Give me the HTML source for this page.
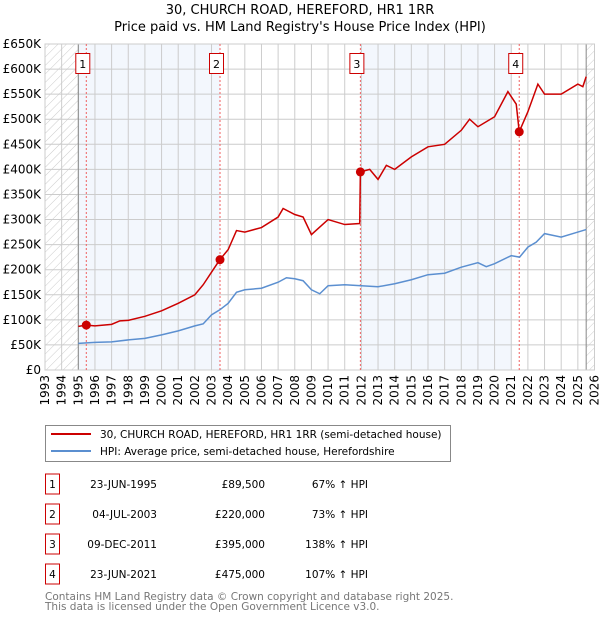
<!DOCTYPE html>
<html><head><meta charset="utf-8"><style>
body{margin:0;background:#fff;width:600px;height:620px;overflow:hidden;font-family:"DejaVu Sans","Liberation Sans",sans-serif;}
svg text{font-family:"DejaVu Sans","Liberation Sans",sans-serif;}
</style></head><body>
<svg id="chart" width="600" height="620" xmlns="http://www.w3.org/2000/svg">
<defs><pattern id="hatch" width="6" height="6" patternUnits="userSpaceOnUse" patternTransform="rotate(45)"><line x1="0" y1="0" x2="0" y2="6" stroke="#ccc" stroke-width="1"/></pattern></defs>
<text x="300" y="14" font-size="13" text-anchor="middle">30, CHURCH ROAD, HEREFORD, HR1 1RR</text>
<text x="300" y="31" font-size="13" text-anchor="middle">Price paid vs. HM Land Registry's House Price Index (HPI)</text>
<g id="plot"></g>
<rect x="45.5" y="425.5" width="405" height="36" fill="#fff" stroke="#888"/>
<line x1="51" y1="434" x2="91" y2="434" stroke="#cc0000" stroke-width="2"/>
<text x="100" y="438" font-size="10.5">30, CHURCH ROAD, HEREFORD, HR1 1RR (semi-detached house)</text>
<line x1="51" y1="451" x2="91" y2="451" stroke="#5b8fd0" stroke-width="2"/>
<text x="100" y="455" font-size="10.5">HPI: Average price, semi-detached house, Herefordshire</text>
<g id="table" font-size="10.5"></g>
<text x="45" y="600" font-size="10.5" fill="#777">Contains HM Land Registry data © Crown copyright and database right 2025.</text>
<text x="45" y="610" font-size="10.5" fill="#777">This data is licensed under the Open Government Licence v3.0.</text>
</svg>
<script>
const yTicks=[0,50,100,150,200,250,300,350,400,450,500,550,600,650];
const years=[1993,1994,1995,1996,1997,1998,1999,2000,2001,2002,2003,2004,2005,2006,2007,2008,2009,2010,2011,2012,2013,2014,2015,2016,2017,2018,2019,2020,2021,2022,2023,2024,2025,2026];
const hpiX=[1995,1995.5,1996,1997,1998,1999,2000,2001,2002,2002.5,2003,2003.5,2004,2004.5,2005,2006,2007,2007.5,2008,2008.5,2009,2009.5,2010,2011,2012,2013,2014,2015,2016,2017,2018,2019,2019.5,2020,2021,2021.5,2022,2022.5,2023,2024,2025,2025.5];
const hpiY=[53,54,55,56,60,63,70,78,88,92,110,120,133,155,160,163,175,184,182,178,160,152,168,170,168,166,172,180,190,193,205,214,206,212,228,225,245,255,272,265,275,280];
const redX=[1995,1995.48,1996,1997,1997.5,1998,1999,2000,2001,2002,2002.5,2003,2003.5,2004,2004.5,2005,2006,2007,2007.3,2008,2008.5,2009,2009.5,2010,2011,2011.9,2011.94,2012.5,2013,2013.5,2014,2015,2016,2017,2018,2018.5,2019,2020,2020.8,2021.3,2021.48,2022,2022.6,2023,2024,2025,2025.3,2025.5];
const redY=[87,89.5,88,91,98,99,107,118,133,150,170,195,220,240,278,275,284,305,322,310,305,270,285,300,290,292,395,400,380,408,400,425,445,450,478,500,485,505,555,530,475,515,570,550,550,570,565,585];
const saleNums=["1","2","3","4"];
const saleX=[1995.48,2003.51,2011.94,2021.48];
const saleY=[89.5,220,395,475];
const saleDates=["23-JUN-1995","04-JUL-2003","09-DEC-2011","23-JUN-2021"];
const salePrices=["£89,500","£220,000","£395,000","£475,000"];
const salePct=["67% ↑ HPI","73% ↑ HPI","138% ↑ HPI","107% ↑ HPI"];

const X0=45,X1=594.5,Y0=370,Y1=44;
const xs=v=>X0+(v-1993)/(2026-1993)*(X1-X0);
const ys=v=>Y0-v/650*(Y0-Y1);
const NS="http://www.w3.org/2000/svg";
function mk(t,a,p){const e=document.createElementNS(NS,t);for(const k in a)e.setAttribute(k,a[k]);p.appendChild(e);return e;}
const g=document.getElementById('plot');
let r;
r=mk('rect',{x:xs(1995),y:Y1,width:xs(2003.51)-xs(1995),height:Y0-Y1,fill:'#eef3fc',opacity:0.7},g);


r=mk('rect',{x:xs(2011.94),y:Y1,width:xs(2021.05)-xs(2011.94),height:Y0-Y1,fill:'#eef3fc',opacity:0.7},g);


r=mk('rect',{x:X0,y:Y1,width:xs(1995)-X0,height:Y0-Y1,fill:'url(#hatch)'},g);


r=mk('rect',{x:xs(2025.5),y:Y1,width:X1-xs(2025.5),height:Y0-Y1,fill:'url(#hatch)'},g);


yTicks.forEach(v=>{
  const l=mk('line',{x1:X0,x2:X1,y1:ys(v),y2:ys(v),stroke:'#ccc'},g);
  
  
  const t=mk('text',{x:X0-4,y:ys(v)+4,'font-size':12,'text-anchor':'end'},g);
  t.textContent=v===0?'£0':'£'+v+'K';
  
  
});
years.forEach(v=>{
  const l=mk('line',{x1:xs(v),x2:xs(v),y1:Y1,y2:Y0,stroke:'#ccc'},g);
  
  
  const t=mk('text',{x:0,y:0,'font-size':12,'text-anchor':'end',transform:`translate(${xs(v)+4},${Y0+5}) rotate(-90)`},g);
  t.textContent=v;
  
  
});
[1995,2025.5].forEach(v=>{const l=mk('line',{x1:xs(v),x2:xs(v),y1:Y1,y2:Y0,stroke:'#888'},g);
  
  });
const ax=mk('rect',{x:X0,y:Y1,width:X1-X0,height:Y0-Y1,fill:'none',stroke:'#ccc'},g);


saleX.forEach((v,i)=>{
  const l=mk('line',{x1:xs(v),x2:xs(v),y1:Y1,y2:Y0,stroke:'#f06060','stroke-dasharray':'2,2'},g);
  
  
});
const hp=mk('path',{d:hpiX.map((x,i)=>(i?'L':'M')+xs(x)+','+ys(hpiY[i])).join(''),fill:'none',stroke:'#5b8fd0','stroke-width':1.5},g);


const rp=mk('path',{d:redX.map((x,i)=>(i?'L':'M')+xs(x)+','+ys(redY[i])).join(''),fill:'none',stroke:'#cc0000','stroke-width':1.5},g);


saleX.forEach((v,i)=>{
  const c=mk('circle',{cx:xs(v),cy:ys(saleY[i]),r:4.5,fill:'#cc0000'},g);
  
  
  const b=mk('rect',{x:xs(v)-10.5,y:53.5,width:14,height:20,fill:'#fff',stroke:'#cc0000'},g);
  
  
  const t=mk('text',{x:xs(v)-3.5,y:68,'font-size':11,'text-anchor':'middle'},g);
  t.textContent=saleNums[i];
  
  
});
const tb=document.getElementById('table');
saleNums.forEach((n,i)=>{
  const cy=484+i*30;
  const b=mk('rect',{x:45.5,y:cy-10,width:14,height:20,fill:'#fff',stroke:'#cc0000'},tb);
  
  
  let t=mk('text',{x:52.5,y:cy+4,'text-anchor':'middle'},tb);t.textContent=n;
  
  
  t=mk('text',{x:157,y:cy+4,'text-anchor':'end'},tb);t.textContent=saleDates[i];
  
  
  t=mk('text',{x:265,y:cy+4,'text-anchor':'end'},tb);t.textContent=salePrices[i];
  
  
  t=mk('text',{x:368,y:cy+4,'text-anchor':'end'},tb);t.textContent=salePct[i];
  
  
});
</script>
</body></html>
